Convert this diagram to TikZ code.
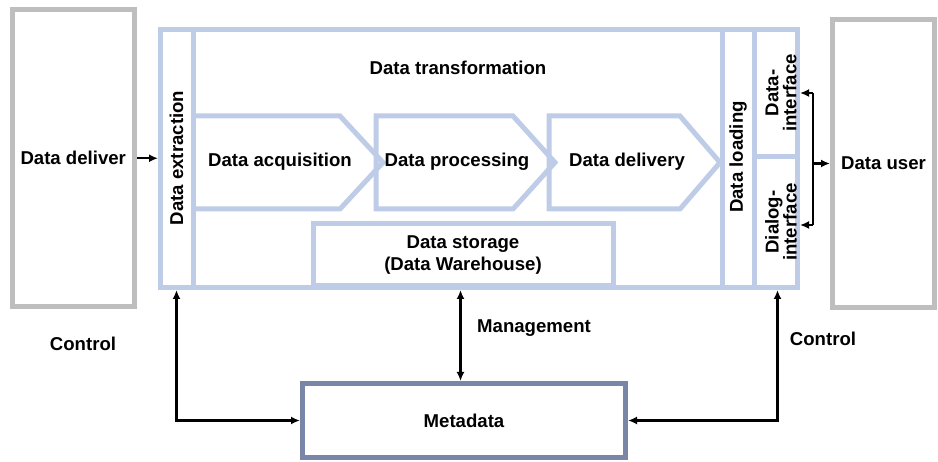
\documentclass[tikz,border=0pt]{standalone}
\usepackage{fontspec}
\setmainfont{Liberation Sans}
\usetikzlibrary{arrows.meta}
\definecolor{frameblue}{HTML}{BFCCE7}
\definecolor{boxgray}{HTML}{BEBEBE}
\definecolor{metablue}{HTML}{7A86A8}
\newcommand{\lblfont}{\bfseries\fontsize{18.6}{20}\selectfont}
\begin{document}
\begin{tikzpicture}[x=1pt,y=-1pt,
  lbl/.style={font=\lblfont, inner sep=0pt},
  graybox/.style={draw=boxgray, line width=5pt, rectangle, fill=white, font=\lblfont},
  bluebox/.style={draw=frameblue, line width=5pt, rectangle},
  blueline/.style={draw=frameblue, line width=5pt, line join=miter},
  wire/.style={line width=2.2pt, black},
  arr/.style={wire, -{Latex[length=9pt,width=8pt]}},
  dbl/.style={wire, {Latex[length=9pt,width=8pt]}-{Latex[length=9pt,width=8pt]}},
]
\useasboundingbox (0,0) rectangle (938,462);

% outer source and consumer boxes
\node[graybox, minimum width=122.5pt, minimum height=297.5pt] (deliver) at (73.25,158.25) {Data deliver};
\node[graybox, minimum width=102pt, minimum height=288pt] (user) at (883.5,163.5) {Data user};

% main processing frame with its columns
\node[bluebox, minimum width=637pt, minimum height=258pt] (frame) at (479,158.5) {};
\draw[blueline] (193,29.5) -- (193,287.5);
\draw[blueline] (722,29.5) -- (722,287.5);
\draw[blueline] (754,29.5) -- (754,287.5);
\draw[blueline] (754,157) -- (797.5,157);

% process chevrons
\draw[blueline] (193,116) -- (340,116) -- (383,162.5) -- (340,209) -- (193,209);
\draw[blueline] (376,116) -- (513,116) -- (555,162.5) -- (513,209) -- (376,209) -- cycle;
\draw[blueline] (549,116) -- (680,116) -- (720,162.5) -- (680,209) -- (549,209) -- cycle;

% data storage
\node[bluebox, minimum width=300pt, minimum height=62pt, align=center,
      font=\bfseries\fontsize{18.6}{22}\selectfont] (store) at (463,255)
      {Data storage\\(Data Warehouse)};

% metadata
\node[draw=metablue, line width=5pt, rectangle, minimum width=323pt, minimum height=74pt,
      font=\lblfont] (meta) at (464,420.5) {Metadata};

% labels
\node[lbl] (trans) at (458,68) {Data transformation};
\node[lbl] (acq) at (280,162) {Data acquisition};
\node[lbl] (proc) at (457,162) {Data processing};
\node[lbl] (deliv) at (627,162) {Data delivery};
\node[lbl, rotate=90] (extr) at (176.5,158) {Data extraction};
\node[lbl, rotate=90] (load) at (738,157) {Data loading};
\node[lbl, rotate=90, align=center, font=\bfseries\fontsize{18.6}{18}\selectfont] (dataif) at (781,93) {Data-\\interface};
\node[lbl, rotate=90, align=center, font=\bfseries\fontsize{18.6}{18}\selectfont] (dialif) at (781,222) {Dialog-\\interface};
\node[lbl, anchor=west] (mgmt) at (477,328) {Management};
\node[lbl] (ctlLt) at (83,344) {Control};
\node[lbl] (ctlRt) at (823,339) {Control};

% connectors
\draw[arr] (deliver.east) -- (deliver.east -| frame.west);

\coordinate (busT) at (813,93);
\coordinate (busB) at (813,225);
\coordinate (busM) at (813,163.5);
\draw[wire] (busT) -- (busB);
\draw[arr] (busT) -- (busT -| frame.east);
\draw[arr] (busB) -- (busB -| frame.east);
\draw[arr] (busM) -- (user.west);

\coordinate (mgX) at ([xshift=-3.5pt]meta.north);
\draw[dbl] (mgX |- frame.south) -- (mgX);

\coordinate (ctlL) at (176.5,300);
\coordinate (ctlR) at (777.5,300);
\draw[dbl] (ctlL |- frame.south) |- (meta.west);
\draw[dbl] (ctlR |- frame.south) |- (meta.east);
\end{tikzpicture}
\end{document}
